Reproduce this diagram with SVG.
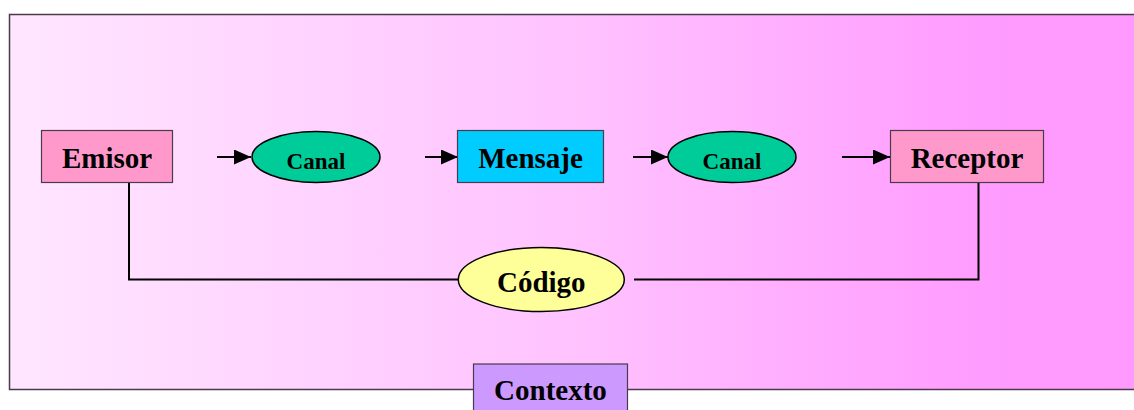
<svg xmlns="http://www.w3.org/2000/svg" width="1134" height="410" viewBox="0 0 1134 410">
<defs>
<linearGradient id="bg" x1="0" y1="0" x2="1" y2="0">
<stop offset="0" stop-color="#FFE6FF"/>
<stop offset="0.5" stop-color="#FFC2FF"/>
<stop offset="0.85" stop-color="#FF9CFF"/>
<stop offset="1" stop-color="#FF99FF"/>
</linearGradient>
<marker id="arr" markerWidth="17" markerHeight="15" refX="17" refY="7.5" orient="auto" markerUnits="userSpaceOnUse" viewBox="0 0 17 15">
<path d="M0,0 L17,7.5 L0,15 Z" fill="#000"/>
</marker>
</defs>
<style>
.lbl{font-family:"Liberation Serif","Times New Roman",serif;font-weight:bold;fill:#000;text-anchor:middle}
.big{font-size:29px}
.sm{font-size:23px}
.box{stroke:#4a3a4a;stroke-width:1.2}
.ell{stroke:#000;stroke-width:1.5}
.con{stroke:#000;stroke-width:2;fill:none}
</style>
<rect x="9.5" y="14.5" width="1140" height="375" fill="url(#bg)" stroke="#4a3a4a" stroke-width="1.5"/>
<g id="connectors">
<line class="con" x1="217" y1="157" x2="251" y2="157" marker-end="url(#arr)"/>
<line class="con" x1="425" y1="157" x2="458" y2="157" marker-end="url(#arr)"/>
<line class="con" x1="633" y1="157" x2="668" y2="157" marker-end="url(#arr)"/>
<line class="con" x1="842" y1="157" x2="890" y2="157" marker-end="url(#arr)"/>
<polyline class="con" points="129,182 129,279.5 458,279.5"/>
<polyline class="con" points="978.5,182 978.5,279.5 634,279.5"/>
</g>
<g id="emisor">
<rect class="box" x="41.5" y="130.5" width="131" height="52" fill="#FF99CC"/>
<text class="lbl big" x="107" y="168">Emisor</text>
</g>
<g id="canal1">
<ellipse class="ell" cx="316" cy="157" rx="64" ry="25.5" fill="#00CC99"/>
<text class="lbl sm" x="316" y="169">Canal</text>
</g>
<g id="mensaje">
<rect class="box" x="457.5" y="130.5" width="146" height="52" fill="#00CCFF"/>
<text class="lbl big" x="530.5" y="168">Mensaje</text>
</g>
<g id="canal2">
<ellipse class="ell" cx="732" cy="157" rx="64" ry="25.5" fill="#00CC99"/>
<text class="lbl sm" x="732" y="169">Canal</text>
</g>
<g id="receptor">
<rect class="box" x="890.5" y="130.5" width="153" height="52" fill="#FF99CC"/>
<text class="lbl big" x="967" y="168">Receptor</text>
</g>
<g id="codigo">
<ellipse class="ell" cx="541.3" cy="279.5" rx="83" ry="32" fill="#FFFF99" stroke-width="1.2"/>
<text class="lbl big" x="541.3" y="291.5">Código</text>
</g>
<g id="contexto">
<rect class="box" x="473.5" y="364" width="154" height="60" fill="#CC99FF"/>
<text class="lbl big" x="550.5" y="400">Contexto</text>
</g>
</svg>
